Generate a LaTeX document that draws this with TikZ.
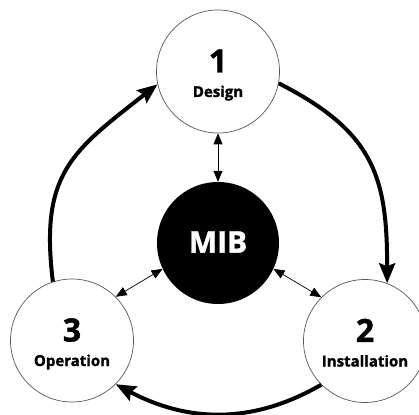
\documentclass[tikz,border=0pt]{standalone}
\usepackage{fontspec}
\setmainfont{Open Sans}[BoldFeatures={FakeBold=1.4}]
\usetikzlibrary{arrows.meta}
\begin{document}
\begin{tikzpicture}[x=1pt,y=1pt,
  phase/.style={circle, draw=black!65, line width=0.7pt, fill=white,
                minimum size=123pt, inner sep=0pt},
  hub/.style={circle, fill=black, minimum size=122pt, inner sep=0pt},
  num/.style={font=\bfseries\fontsize{32}{32}\selectfont, anchor=base, inner sep=0pt},
  lbl/.style={font=\bfseries\fontsize{15}{15}\selectfont, anchor=base, inner sep=0pt},
  hubtext/.style={font=\bfseries\fontsize{30}{30}\selectfont, text=white, anchor=base, inner sep=0pt},
  cycle/.style={line width=4pt, -{Stealth[length=20pt,width=16pt,inset=3pt]}},
  link/.style={line width=0.7pt, {Triangle[length=11pt,width=9pt]}-{Triangle[length=11pt,width=9pt]}}
]
\useasboundingbox (0,0) rectangle (419,414);

% the three phases and the central hub
\node[phase] (d) at (218,342.5) {};
\node[phase] (i) at (365,73) {};
\node[phase] (o) at (72,73.5) {};
\node[hub]   (m) at (218,171) {};

% phase numbers and names
\node[num] (dnum) at (218,341.5) {1};
\node[lbl] (dlbl) at (218,317) {Design};
\node[num] (inum) at (365,72) {2};
\node[lbl] (ilbl) at (365,47.5) {Installation};
\node[num] (onum) at (72,72.5) {3};
\node[lbl] (olbl) at (72,48) {Operation};
\node[hubtext] (mtxt) at (218,161.3) {MIB};

% two-way links between the hub and each phase
\draw[link] (d.south) -- (m.north);
\draw[link] (m.205) -- (o.45);
\draw[link] (m.335) -- (i.135);

% the outer cycle
\draw[cycle] (d.-11) to[out=-27, in=90, looseness=1.2] (i.69);
\draw[cycle] (i.225) to[out=-150, in=-28] (o.-45);
\draw[cycle] (o.108) to[out=97, in=218, looseness=1.25] (d.192);
\end{tikzpicture}
\end{document}
